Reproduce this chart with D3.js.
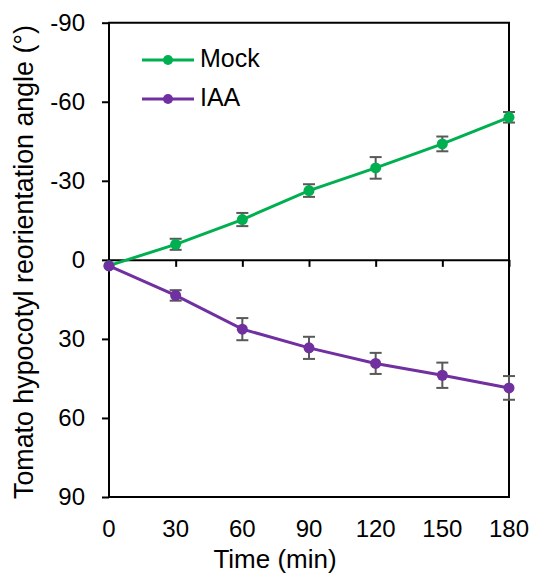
<!DOCTYPE html>
<html>
<head>
<meta charset="utf-8">
<script src="https://cdnjs.cloudflare.com/ajax/libs/d3/7.8.5/d3.min.js"></script>
<style>
  body { margin: 0; background: #fff; }
  svg text { font-family: "Liberation Sans", Arial, sans-serif; fill: #000; }
</style>
</head>
<body>
<svg width="540" height="581"></svg>
<script>
// data
var times = [0, 30, 60, 90, 120, 150, 180];
var mock = [2.2, -5.9, -15.3, -26.3, -34.9, -44.0, -54.1];
var mockErr = [0, 2.1, 2.5, 2.4, 4.1, 2.8, 2.0];
var iaa = [2.3, 13.5, 26.3, 33.4, 39.3, 43.8, 48.6];
var iaaErr = [0, 2.0, 4.2, 4.2, 4.0, 4.8, 4.5];
var yTicks = [-90, -60, -30, 0, 30, 60, 90];
var xTicks = [0, 30, 60, 90, 120, 150, 180];

var series = [
  {name: "Mock", vals: mock, err: mockErr, color: "#00B050"},
  {name: "IAA", vals: iaa, err: iaaErr, color: "#7030A0"}
];

var svg = d3.select("svg");

var x = d3.scaleLinear().domain([0, 180]).range([109, 509]),
    y = d3.scaleLinear().domain([-90, 90]).range([22.7, 497]);

// box: left axis, top, right, bottom
svg.append("path")
  .attr("d", "M" + x(0) + "," + y(-90) + "H" + x(180) + "V" + y(90) + "H" + x(0) + "Z")
  .attr("fill", "none").attr("stroke", "#000").attr("stroke-width", 2);

// y axis ticks + labels
var yAxis = d3.axisLeft(y).tickValues(yTicks).tickSize(7).tickPadding(17)
  .tickFormat(function(d){ return d < 0 ? "-" + Math.abs(d) : d; });
var gy = svg.append("g").attr("transform", "translate(" + x(0) + ",0)").call(yAxis);
gy.select(".domain").remove();
gy.selectAll("line").attr("stroke", "#000").attr("stroke-width", 2);
gy.selectAll("text").style("font-size", "24px").attr("fill", "#000");

// zero line with ticks pointing down
var xAxis = d3.axisBottom(x).tickValues(xTicks).tickSize(7).tickSizeOuter(0).tickFormat("");
var gx0 = svg.append("g").attr("transform", "translate(0," + y(0) + ")").call(xAxis);
gx0.select(".domain").attr("stroke", "#000").attr("stroke-width", 2);
gx0.selectAll("line").attr("stroke", "#000").attr("stroke-width", 2);

// x tick labels under the plot
svg.append("g").selectAll("text").data(xTicks).enter().append("text")
  .attr("x", function(d){ return x(d); })
  .attr("y", 537)
  .attr("text-anchor", "middle")
  .style("font-size", "24px")
  .text(function(d){ return d; });

svg.append("text")
  .attr("x", 275).attr("y", 568)
  .attr("text-anchor", "middle")
  .style("font-size", "26px")
  .text("Time (min)");

svg.append("text")
  .attr("transform", "translate(33,262) rotate(-90)")
  .attr("text-anchor", "middle")
  .style("font-size", "26.8px")
  .text("Tomato hypocotyl reorientation angle (°)");

// error bars
series.forEach(function(s){
  var g = svg.append("g").attr("stroke", "#595959").attr("stroke-width", 2);
  times.forEach(function(t, i){
    if (!s.err[i]) return;
    var cx = x(t), y1 = y(s.vals[i] - s.err[i]), y2 = y(s.vals[i] + s.err[i]);
    g.append("line").attr("x1", cx).attr("x2", cx).attr("y1", y1).attr("y2", y2);
    g.append("line").attr("x1", cx - 6).attr("x2", cx + 6).attr("y1", y1).attr("y2", y1);
    g.append("line").attr("x1", cx - 6).attr("x2", cx + 6).attr("y1", y2).attr("y2", y2);
  });
});

// lines + markers
var line = d3.line().x(function(d){ return x(d[0]); }).y(function(d){ return y(d[1]); });
series.forEach(function(s){
  var pts = times.map(function(t, i){ return [t, s.vals[i]]; });
  svg.append("path").datum(pts).attr("d", line)
    .attr("fill", "none").attr("stroke", s.color).attr("stroke-width", 3);
  svg.append("g").selectAll("circle").data(pts).enter().append("circle")
    .attr("cx", function(d){ return x(d[0]); })
    .attr("cy", function(d){ return y(d[1]); })
    .attr("r", 5.5)
    .attr("fill", s.color);
});

// legend
var leg = svg.append("g").selectAll("g").data(series).enter().append("g")
  .attr("transform", function(d, i){ return "translate(142," + (60 + i * 39) + ")"; });
leg.append("line").attr("x1", 0).attr("x2", 52).attr("y1", 0).attr("y2", 0)
  .attr("stroke", function(d){ return d.color; }).attr("stroke-width", 3);
leg.append("circle").attr("cx", 26).attr("cy", 0).attr("r", 5)
  .attr("fill", function(d){ return d.color; });
leg.append("text").attr("x", 58).attr("y", 7)
  .style("font-size", "25px")
  .text(function(d){ return d.name; });
</script>
</body>
</html>
